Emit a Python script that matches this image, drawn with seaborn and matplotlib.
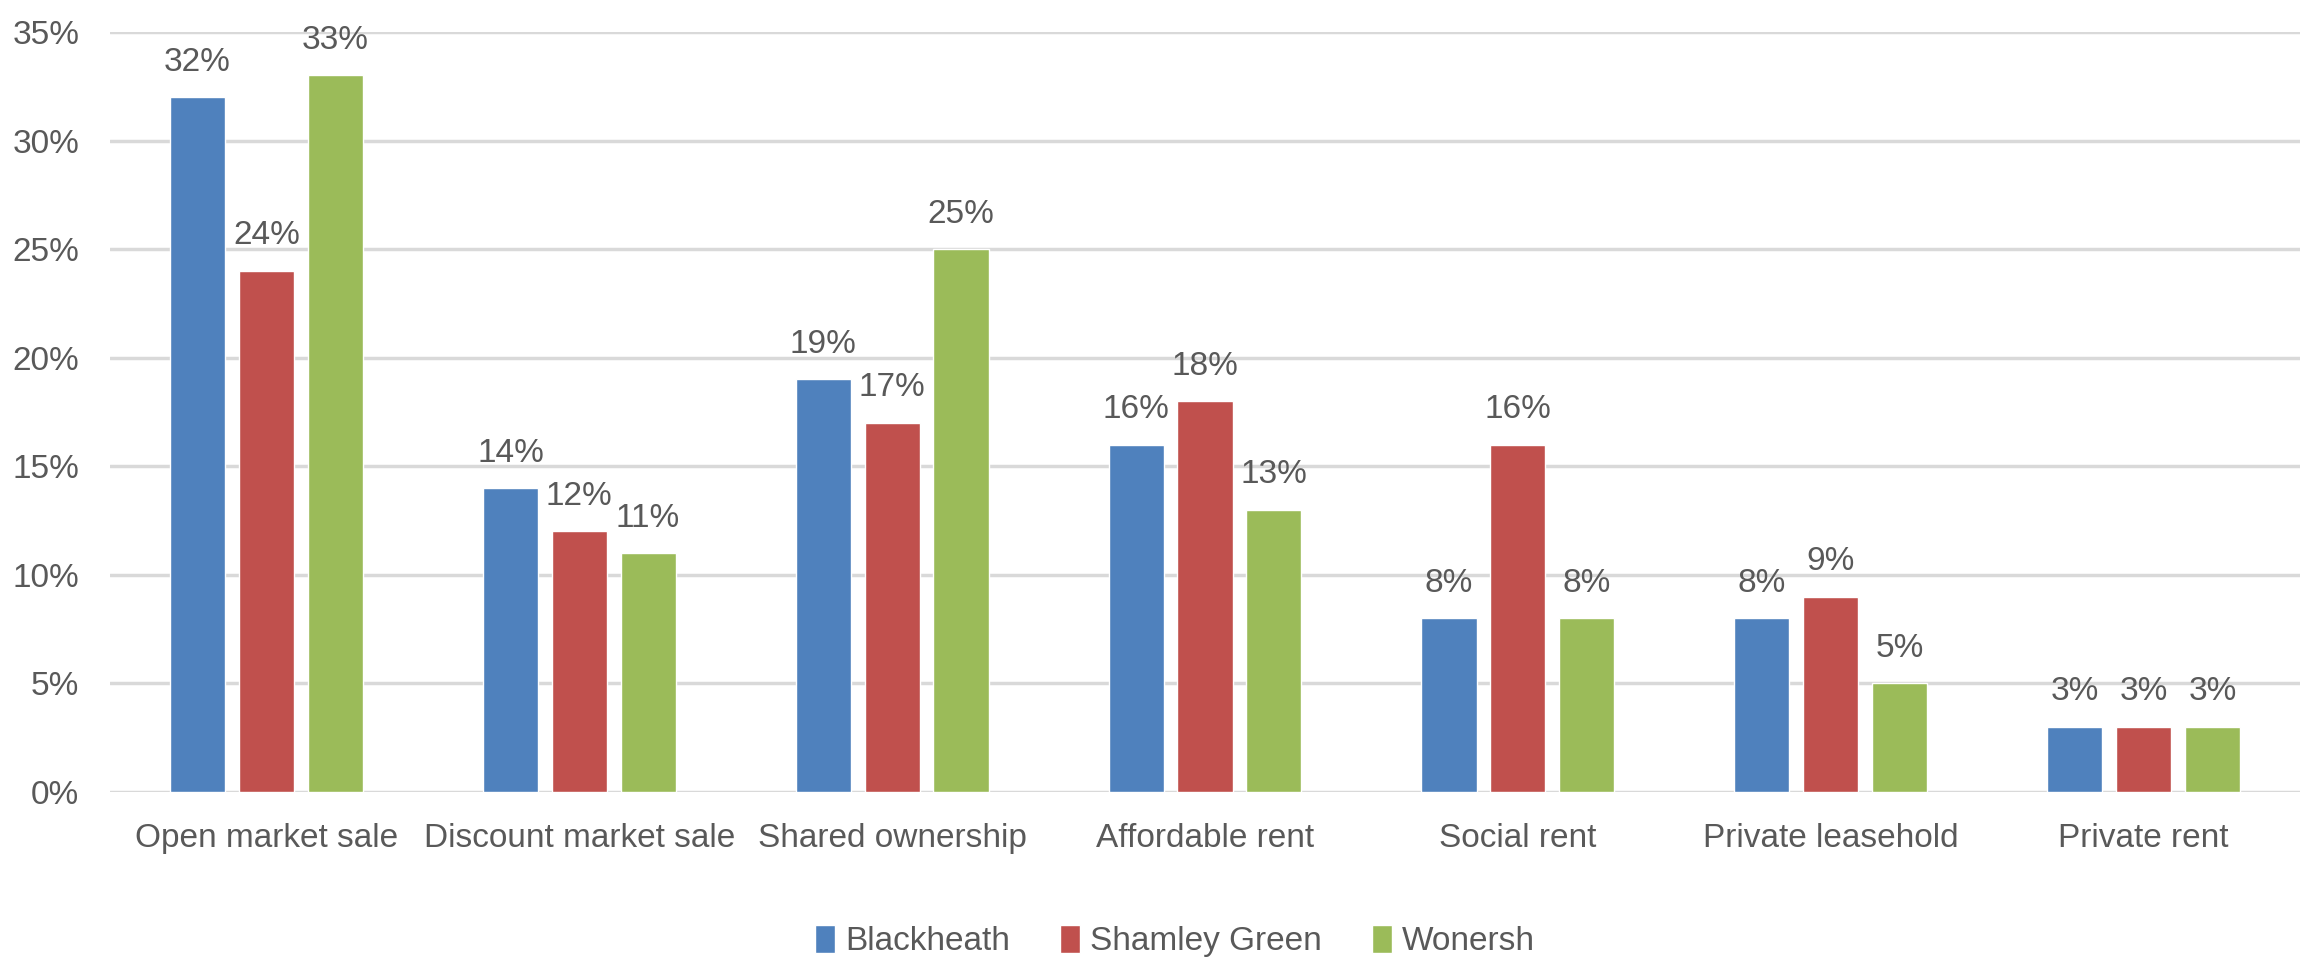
import matplotlib
matplotlib.use("Agg")
import matplotlib.pyplot as plt
import seaborn as sns
import pandas as pd
from matplotlib.ticker import FuncFormatter

categories = ["Open market sale", "Discount market sale", "Shared ownership",
              "Affordable rent", "Social rent", "Private leasehold", "Private rent"]
series_names = ["Blackheath", "Shamley Green", "Wonersh"]
blackheath = [32, 14, 19, 16, 8, 8, 3]
shamley_green = [24, 12, 17, 18, 16, 9, 3]
wonersh = [33, 11, 25, 13, 8, 5, 3]
yticks = [0, 5, 10, 15, 20, 25, 30, 35]

colors = ["#4F81BD", "#C0504D", "#9BBB59"]
text_color = "#595959"

sns.set_theme(style="white")
plt.rcParams['font.family'] = ['Liberation Sans', 'DejaVu Sans']

rows = []
for name, vals in zip(series_names, [blackheath, shamley_green, wonersh]):
    for c, v in zip(categories, vals):
        rows.append({"category": c, "series": name, "value": v})
df = pd.DataFrame(rows)

fig = plt.figure(figsize=(23.05, 9.66), dpi=100)
ax = fig.add_axes([110/2305, 174/966, (2300-110)/2305, (792-32)/966])

sns.barplot(data=df, x="category", y="value", hue="series", order=categories,
            hue_order=series_names, palette=colors, width=0.66, gap=0.2,
            saturation=1, ax=ax, legend=True)

ax.set_ylim(0, 35)
ax.set_yticks(yticks)
ax.yaxis.set_major_formatter(FuncFormatter(lambda v, p: f"{int(v)}%"))
ax.set_xlim(-0.5, len(categories) - 0.5)
ax.grid(axis="y", color="#D9D9D9", linewidth=2.5)
ax.set_axisbelow(True)
for s in ax.spines.values():
    s.set_visible(False)
ax.set_xlabel("")
ax.set_ylabel("")
ax.tick_params(axis="both", length=0, labelsize=24, colors=text_color)
ax.tick_params(axis="x", pad=22)
ax.tick_params(axis="y", pad=22)

for cont in ax.containers:
    ax.bar_label(cont, labels=[f"{int(v)}%" for v in cont.datavalues],
                 padding=14, fontsize=24, color=text_color)

leg = ax.get_legend()
handles, labels = ax.get_legend_handles_labels()
leg.remove()
fig.legend(handles, labels, loc="center", bbox_to_anchor=(1175/2305, 1-941/966),
           ncol=3, frameon=False, fontsize=24, labelcolor=text_color,
           handlelength=0.6, handleheight=0.9, handletextpad=0.3, columnspacing=1.5)

fig.savefig("out.png", dpi=100)
